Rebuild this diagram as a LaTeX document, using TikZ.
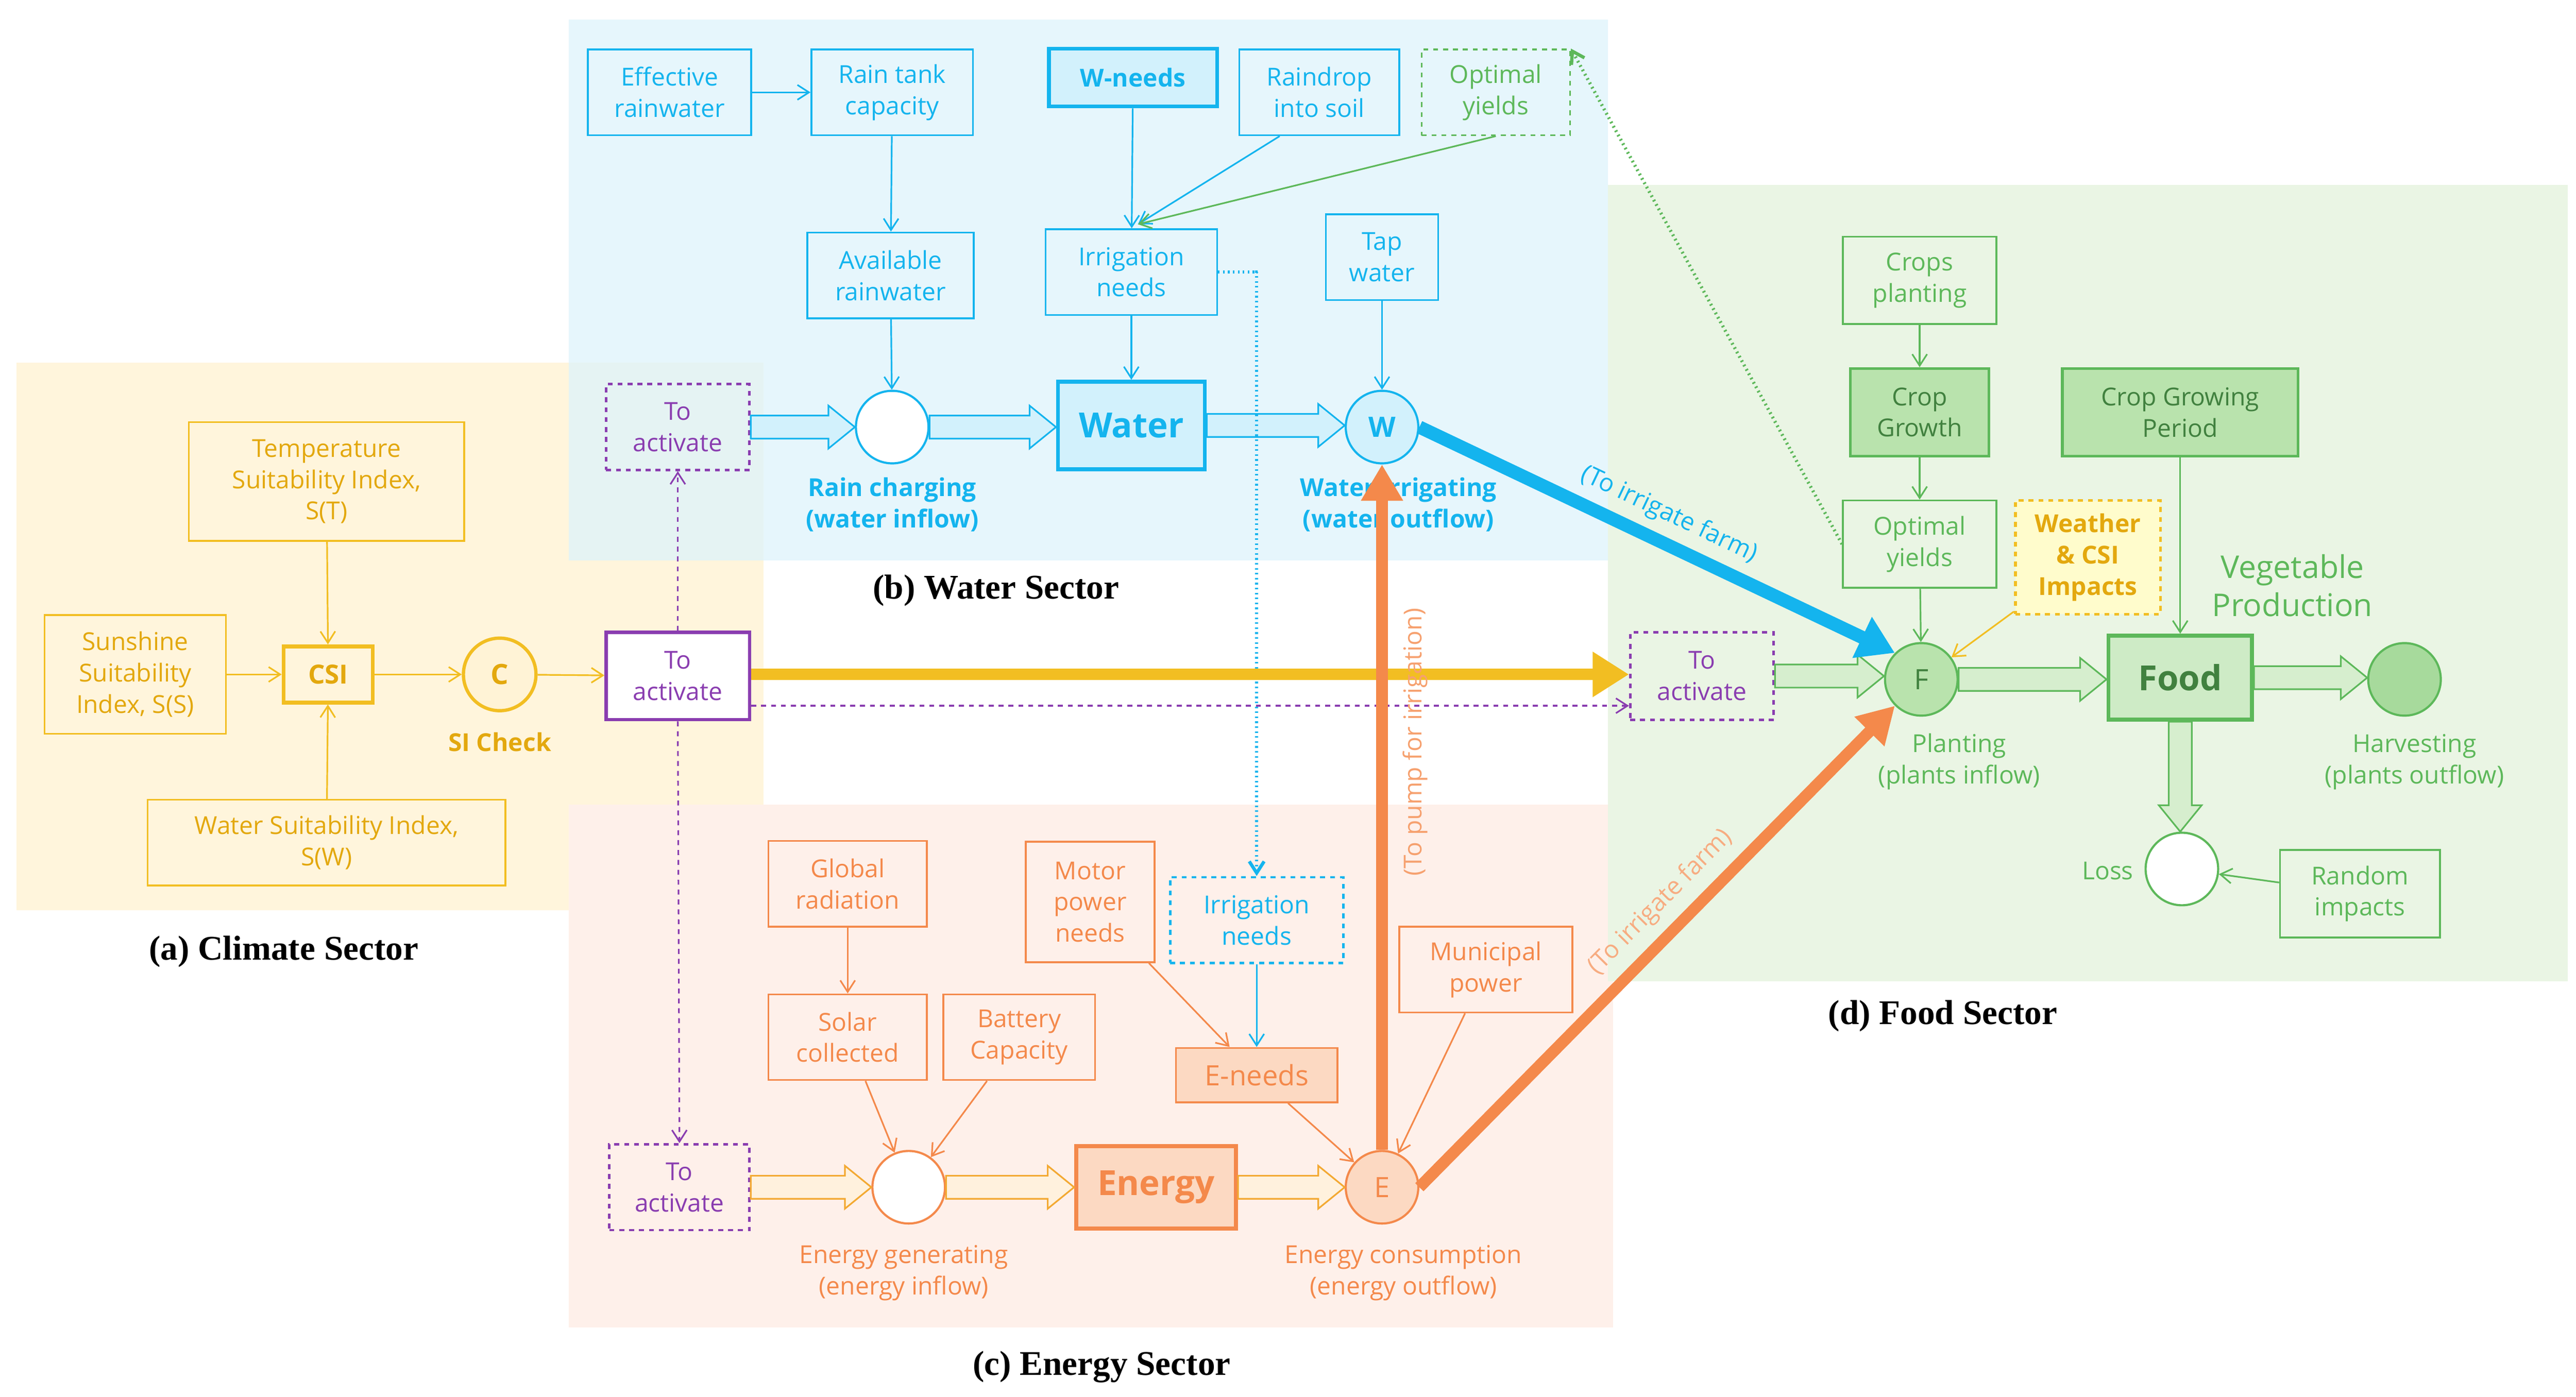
\documentclass[tikz,border=0pt]{standalone}
\usepackage{fontspec}
\setmainfont{Open Sans}
\newfontfamily\ser{Liberation Serif}
\usetikzlibrary{arrows.meta,calc,shapes.geometric}
\definecolor{cb}{HTML}{14B4EE}
\definecolor{cbl}{HTML}{D2F1FC}
\definecolor{cy}{HTML}{F2BE22}
\definecolor{cyt}{HTML}{E3A80E}
\definecolor{co}{HTML}{F4894B}
\definecolor{col}{HTML}{FCD9C2}
\definecolor{cg}{HTML}{5DB85A}
\definecolor{cgl}{HTML}{B9E3AD}
\definecolor{cp}{HTML}{8A3DB0}
\definecolor{bgy}{HTML}{FFF3D6}
\definecolor{bgb}{HTML}{DDF3FB}
\definecolor{bgo}{HTML}{FEF0EA}
\definecolor{bgg}{HTML}{EAF5E4}
\newcommand\pipeH[4]{\path[draw=#4,fill=#3,line width=1pt] let \p1=(#1.east), \p2=(#2.west) in
 (\x1,\y1+7) -- (\x2-16,\y1+7) -- (\x2-16,\y1+13) -- (\x2,\y1) -- (\x2-16,\y1-13) -- (\x2-16,\y1-7) -- (\x1,\y1-7) -- cycle;}
\begin{document}
\begin{tikzpicture}[x=1pt,y=-1pt,
 every node/.style={font=\fontsize{15}{19}\selectfont,align=center},
 bx/.style 2 args={draw,line width=1.1pt,minimum width=#1,minimum height=#2,inner sep=1pt},
 cir/.style={circle,draw,line width=1.3pt,minimum size=44pt,inner sep=0pt},
 ar/.style={-{Straight Barb[length=7pt,width=9pt]},line width=1pt},
 ttl/.style={font=\ser\bfseries\fontsize{21}{24}\selectfont,text=black}]
\useasboundingbox (0,0) rectangle (1562,847);
% backgrounds
\fill[bgy,opacity=.85] (10,220) rectangle (463,552);
\fill[bgb,opacity=.75] (345,12) rectangle (975,340);
\fill[bgo] (345,488) rectangle (978,805);
\fill[bgg] (975,112) rectangle (1557,595);
% ===== water
\begin{scope}[every node/.append style={text=cb},draw=cb,cb]
\node[bx={99pt}{52pt}] (er) at (406,56) {Effective\\rainwater};
\node[bx={98pt}{52pt}] (rt) at (541,56) {Rain tank\\capacity};
\node[bx={102pt}{35pt},fill=cbl,line width=2.4pt,font=\bfseries\fontsize{15}{19}\selectfont] (wn) at (687,47) {W-needs};
\node[bx={97pt}{52pt}] (rd) at (800,56) {Raindrop\\into soil};
\node[bx={101pt}{52pt}] (ar2) at (540,167) {Available\\rainwater};
\node[bx={104pt}{52pt}] (in) at (686,165) {Irrigation\\needs};
\node[bx={68pt}{52pt}] (tw) at (838,156) {Tap\\water};
\node[cir,fill=white] (rc) at (541,259) {};
\node[bx={89pt}{53pt},fill=cbl,line width=2.4pt,font=\bfseries\fontsize{21}{26}\selectfont] (wb) at (686,258) {Water};
\node[cir,fill=cbl,font=\bfseries\fontsize{17}{20}\selectfont] (W) at (838,259) {W};
\node[font=\bfseries\fontsize{15}{19}\selectfont] at (541,306) {Rain charging\\(water inflow)};
\node[font=\bfseries\fontsize{15}{19}\selectfont] at (848,306) {Water irrigating\\(water outflow)};
\end{scope}
\node[bx={90pt}{52pt},draw=cg,dashed,text=cg] (oy1) at (907,56) {Optimal\\yields};
\node[bx={87pt}{52pt},draw=cp,dashed,line width=1.5pt,text=cp] (ta1) at (411,259) {To\\activate};
\coordinate (inT) at (690,136);
\draw[ar,cb] (er) -- (rt);
\draw[ar,cb] (rt) -- (ar2);
\draw[ar,cb] (ar2) -- (rc);
\draw[ar,cb] (wn) -- (in);
\draw[ar,cb] (rd.south west) ++(25,0) -- (inT);
\draw[ar,cg] (oy1.south) -- (inT);
\draw[ar,cb] (in) -- (wb);
\draw[ar,cb] (tw) -- (W);
\pipeH{ta1}{rc}{cbl}{cb}
\pipeH{rc}{wb}{cbl}{cb}
\pipeH{wb}{W}{cbl}{cb}
\node[ttl] at (604,358) {(b) Water Sector};
% ===== climate
\begin{scope}[every node/.append style={text=cyt},draw=cy]
\node[bx={167pt}{72pt}] (ts) at (198,292) {Temperature\\Suitability Index,\\S(T)};
\node[bx={110pt}{72pt}] (ss) at (82,409) {Sunshine\\Suitability\\Index, S(S)};
\node[bx={54pt}{34pt},line width=2.4pt,font=\bfseries\fontsize{16}{19}\selectfont] (csi) at (199,409) {CSI};
\node[cir,line width=2pt,fill=bgy,font=\bfseries\fontsize{17}{20}\selectfont] (C) at (303,409) {C};
\node[font=\bfseries\fontsize{15}{19}\selectfont] at (303,450) {SI Check};
\node[bx={217pt}{52pt}] (ws) at (198,511) {Water Suitability Index,\\S(W)};
\end{scope}
\node[bx={87pt}{53pt},draw=cp,line width=2pt,text=cp,fill=white] (ta0) at (411,410) {To\\activate};
\draw[ar,cy] (ts) -- (csi);
\draw[ar,cy] (ss) -- (csi);
\draw[ar,cy] (ws) -- (csi);
\draw[ar,cy] (csi) -- (C);
\draw[ar,cy] (C) -- (ta0);
\node[ttl] at (172,577) {(a) Climate Sector};
% ===== energy
\begin{scope}[every node/.append style={text=co},draw=co]
\node[bx={96pt}{52pt}] (gr) at (514,536) {Global\\radiation};
\node[bx={78pt}{73pt}] (mp) at (661,547) {Motor\\power\\needs};
\node[bx={96pt}{52pt}] (sc) at (514,629) {Solar\\collected};
\node[bx={92pt}{52pt}] (bc) at (618,629) {Battery\\Capacity};
\node[bx={98pt}{33pt},fill=col,font=\fontsize{17}{20}\selectfont] (en) at (762,652) {E-needs};
\node[bx={105pt}{52pt}] (mu) at (901,588) {Municipal\\power};
\node[cir,fill=white] (ec) at (551,720) {};
\node[bx={97pt}{50pt},fill=col,line width=2.4pt,font=\bfseries\fontsize{21}{26}\selectfont] (eb) at (701,720) {Energy};
\node[cir,fill=col,font=\fontsize{17}{20}\selectfont] (E) at (838,720) {E};
\node at (548,772) {Energy generating\\(energy inflow)};
\node at (851,772) {Energy consumption\\(energy outflow)};
\end{scope}
\node[bx={105pt}{52pt},draw=cb,dashed,line width=1.5pt,text=cb] (in2) at (762,558) {Irrigation\\needs};
\node[bx={85pt}{52pt},draw=cp,dashed,line width=1.5pt,text=cp] (ta2) at (412,720) {To\\activate};
\draw[ar,co] (gr) -- (sc);
\draw[ar,co] (sc) -- (ec);
\draw[ar,co] (bc) -- (ec);
\draw[ar,co] (mp) -- (en);
\draw[ar,cb] (in2) -- (en);
\draw[ar,co] (en) -- (E);
\draw[ar,co] (mu) -- (E);
\pipeH{ta2}{ec}{bgy!80!orange!40}{cy!60!co}
\pipeH{ec}{eb}{bgy!80!orange!40}{cy!60!co}
\pipeH{eb}{E}{bgy!80!orange!40}{cy!60!co}
\node[ttl] at (668,829) {(c) Energy Sector};
% ===== food
\begin{scope}[every node/.append style={text=cg},draw=cg]
\node[bx={93pt}{53pt}] (cp) at (1164,170) {Crops\\planting};
\node[bx={84pt}{53pt},fill=cgl,line width=1.6pt,text=cg!70!black] (cgw) at (1164,250) {Crop\\Growth};
\node[bx={143pt}{53pt},fill=cgl,line width=1.6pt,text=cg!70!black] (cgp) at (1322,250) {Crop Growing\\Period};
\node[bx={93pt}{53pt}] (oy2) at (1164,330) {Optimal\\yields};
\node[font=\fontsize{19}{23}\selectfont] at (1390,355) {Vegetable\\Production};
\node[cir,fill=cgl,font=\fontsize{17}{20}\selectfont,text=cg!70!black] (F) at (1165,412) {F};
\node[bx={87pt}{51pt},fill=cgl!70!white,line width=2.4pt,font=\bfseries\fontsize{21}{26}\selectfont,text=cg!70!black] (fb) at (1322,411) {Food};
\node[cir,fill=cgl!80!cg] (hv) at (1458,412) {};
\node at (1188,462) {Planting\\(plants inflow)};
\node at (1464,462) {Harvesting\\(plants outflow)};
\node[cir,fill=white] (ls) at (1323,527) {};
\node at (1278,528) {Loss};
\node[bx={97pt}{53pt}] (ri) at (1431,542) {Random\\impacts};
\end{scope}
\node[bx={88pt}{69pt},draw=cy,dashed,line width=1.8pt,fill=bgy!60!yellow!40,text=cyt,font=\bfseries\fontsize{15}{19}\selectfont] (wc) at (1266,338) {Weather\\\& CSI\\Impacts};
\node[bx={87pt}{53pt},draw=cp,dashed,line width=1.5pt,text=cp] (ta3) at (1032,410) {To\\activate};
\draw[ar,cg] (cp) -- (cgw);
\draw[ar,cg] (cgw) -- (oy2);
\draw[ar,cg] (oy2) -- (F);
\draw[ar,cg] (cgp) -- (fb);
\draw[ar,cy] (wc) -- (F);
\draw[ar,cg] (ri) -- (ls);
\pipeH{ta3}{F}{bgg!60!cgl}{cg}
\pipeH{F}{fb}{bgg!60!cgl}{cg}
\pipeH{fb}{hv}{bgg!60!cgl}{cg}
\path[draw=cg,fill=bgg!60!cgl,line width=1pt] let \p1=(fb.south), \p2=(ls.north) in
 (\x1-7,\y1) -- (\x1-7,\y2+16) -- (\x1-13,\y2+16) -- (\x1,\y2) -- (\x1+13,\y2+16) -- (\x1+7,\y2+16) -- (\x1+7,\y1) -- cycle;
\node[ttl] at (1178,616) {(d) Food Sector};
% ===== cross links
\draw[ar,cg,dotted,line width=2pt] (oy2.west) -- (oy1.north east);
\draw[ar,cb,dotted,line width=2pt] (in.east) -- ++(24,0) -| (in2.north);
\draw[ar,cp,dashed] (ta0.north) -- (ta1.south);
\draw[ar,cp,dashed] (ta0.south) -- (ta2.north);
\draw[ar,cp,dashed] (ta0.east |- 0,428) -- (ta3.west |- 0,428);
\draw[-{Triangle[length=22pt,width=26pt]},cy,line width=7pt] (ta0.east |- 0,409) -- (ta3.west |- 0,409);
\draw[-{Triangle[length=22pt,width=26pt]},cb,line width=8pt] (W.east) -- (F.north west)
 node[pos=.5,sloped,above=2pt,text=cb,font=\fontsize{15}{19}\selectfont] {(To irrigate farm)};
\draw[-{Triangle[length=22pt,width=24pt]},co,line width=7pt] (E.north) -- (W.south);
\node[rotate=90,text=co!80!white] at (858,450) {(To pump for irrigation)};
\draw[-{Triangle[length=22pt,width=24pt]},co,line width=7pt] (E.east) -- (F.south west)
 node[pos=.55,sloped,above=3pt,text=co!70!white,font=\fontsize{15}{19}\selectfont] {(To irrigate farm)};
\end{tikzpicture}
\end{document}
